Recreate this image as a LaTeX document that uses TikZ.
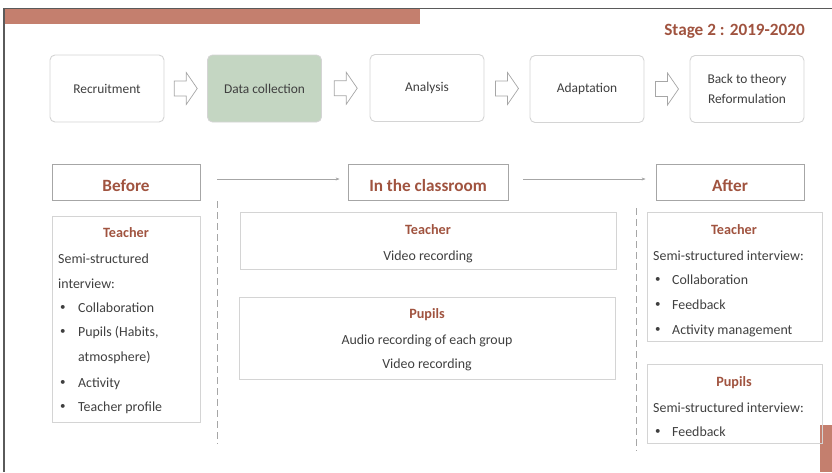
\documentclass[tikz,border=0pt]{standalone}
\usepackage{fontspec}
\setmainfont{Carlito}
\usetikzlibrary{arrows.meta}
\definecolor{salm}{HTML}{C47F6E}
\definecolor{rtext}{HTML}{A0533F}
\definecolor{gtext}{HTML}{3F3F3F}
\definecolor{gbord}{HTML}{D4D4D4}
\definecolor{hbord}{HTML}{A6A6A6}
\definecolor{greenfill}{HTML}{C4D6C2}
\definecolor{frame}{HTML}{5A5A5A}
\begin{document}
\begin{tikzpicture}[x=1pt,y=-1pt,
  procbox/.style={draw=gbord,line width=0.9pt,rounded corners=5pt,fill=white,
    minimum width=114pt,minimum height=67pt,inner sep=0pt,align=center,
    text=gtext,font=\fontsize{13.4}{20}\selectfont},
  blockarr/.style={draw=hbord,fill=white,line width=0.7pt,line join=miter},
  hdrbox/.style={draw=hbord,line width=0.8pt,minimum height=36pt,inner sep=0pt,
    text=rtext,font=\fontsize{17.2}{20}\selectfont\bfseries},
  hdrtext/.style={text=rtext,font=\fontsize{17.2}{20}\selectfont\bfseries,
    inner sep=0pt,text height=11pt,text depth=0pt},
  panel/.style={draw=gbord,line width=0.9pt,inner sep=0pt},
  ttl/.style={text=rtext,font=\fontsize{14.2}{17}\selectfont\bfseries,inner sep=0pt,
    text height=9pt,text depth=0pt},
  body/.style={text=gtext,font=\fontsize{13.9}{17}\selectfont,inner sep=0pt,
    text height=8.8pt,text depth=0pt},
  lbody/.style={body,anchor=west},
  bul/.style={text=gtext,font=\fontsize{11}{13}\selectfont,inner sep=0pt,anchor=west},
  flow/.style={draw=hbord,line width=0.8pt,-{Stealth[length=4pt,width=3pt]}},
  sep/.style={draw=hbord,line width=0.8pt,dash pattern=on 7pt off 4pt}
]
\useasboundingbox (0,0) rectangle (832,472);
% frame and bars
\fill[salm] (4,9) rectangle (420,24);
\fill[salm] (820,425) rectangle (832,472);
\draw[frame,line width=0.6pt] (4,8.5) -- (832,8.5);
\draw[frame,line width=1.6pt] (4,8) -- (4,472);
\node[hdrtext,anchor=east] (stage) at (805,29.5) {Stage 2 : 2019-2020};
% process row
\node[procbox] (rec) at (107,88.5) {Recruitment};
\node[procbox,fill=greenfill] (dat) at (264.5,88.5) {Data collection};
\node[procbox] (ana) at (427,88) {Analysis};
\node[procbox] (ada) at (587,89) {Adaptation};
\node[procbox] (bac) at (747,89) {Back to theory\\Reformulation};
\path (rec.east) -- (dat.west) coordinate[pos=0.5] (m1);
\path (dat.east) -- (ana.west) coordinate[pos=0.5] (m2);
\path (ana.east) -- (ada.west) coordinate[pos=0.5] (m3);
\path (ada.east) -- (bac.west) coordinate[pos=0.5] (m4);
\foreach \m in {m1,m2,m3,m4}{
  \draw[blockarr] (\m) ++(-11.5,-7.5) -- ++(12,0) -- ++(0,-8.5) -- ++(11,16)
    -- ++(-11,16) -- ++(0,-8.5) -- ++(-12,0) -- cycle;
}
% phase headers
\node[hdrbox,minimum width=148pt] (bef) at (126,182) {};
\node[hdrbox,minimum width=160pt] (cls) at (428,182) {};
\node[hdrbox,minimum width=148pt] (aft) at (730,182) {};
\node[hdrtext] (beft) at (126,186) {Before};
\node[hdrtext] (clst) at (428,186) {In the classroom};
\node[hdrtext] (aftt) at (730,186) {After};
\draw[flow,shorten <=17pt,shorten >=8pt] (bef.east|-0,179) -- (cls.west|-0,179);
\draw[flow,shorten <=15pt,shorten >=10pt] (cls.east|-0,179) -- (aft.west|-0,179);
% separators
\coordinate (s1a) at (217,201);
\coordinate (s1b) at (217,444);
\coordinate (s2a) at (636,208);
\coordinate (s2b) at (636,451);
\draw[sep] (s1a) -- (s1b);
\draw[sep] (s2a) -- (s2b);
% before panel
\node[panel,minimum width=148pt,minimum height=206pt] (bp) at (126,319) {};
\node[ttl] (bpt) at (126,233) {Teacher};
\node[lbody] (bp1) at (58,259) {Semi-structured};
\node[lbody] (bp2) at (58,284) {interview:};
\node[bul] (bb1) at (60,308) {•};
\node[lbody] (bp3) at (78,308) {Collaboration};
\node[bul] (bb2) at (60,332) {•};
\node[lbody] (bp4) at (78,332) {Pupils (Habits,};
\node[lbody] (bp5) at (78,357) {atmosphere)};
\node[bul] (bb3) at (60,383) {•};
\node[lbody] (bp6) at (78,383) {Activity};
\node[bul] (bb4) at (60,407) {•};
\node[lbody] (bp7) at (78,407) {Teacher profile};
% classroom panels
\node[panel,minimum width=376pt,minimum height=57pt] (ct) at (428,240.5) {};
\node[ttl] (ctt) at (428,230) {Teacher};
\node[body] (ct1) at (428,256) {Video recording};
\node[panel,minimum width=376pt,minimum height=82pt] (cp) at (427,338) {};
\node[ttl] (cpt) at (427,314) {Pupils};
\node[body] (cp1) at (427,340) {Audio recording of each group};
\node[body] (cp2) at (427,364) {Video recording};
% after panels
\node[panel,minimum width=175pt,minimum height=129pt] (at) at (734.5,276.5) {};
\node[ttl] (att) at (734,230) {Teacher};
\node[lbody] (at1) at (653,256) {Semi-structured interview:};
\node[bul] (ab1) at (655,280) {•};
\node[lbody] (at2) at (672,280) {Collaboration};
\node[bul] (ab2) at (655,305) {•};
\node[lbody] (at3) at (672,305) {Feedback};
\node[bul] (ab3) at (655,330) {•};
\node[lbody] (at4) at (672,330) {Activity management};
\node[panel,minimum width=175pt,minimum height=79pt] (ap) at (734.5,403.5) {};
\node[ttl] (apt) at (734,382) {Pupils};
\node[lbody] (ap1) at (653,408) {Semi-structured interview:};
\node[bul] (ab4) at (655,432) {•};
\node[lbody] (ap2) at (672,432) {Feedback};
\end{tikzpicture}
\end{document}
